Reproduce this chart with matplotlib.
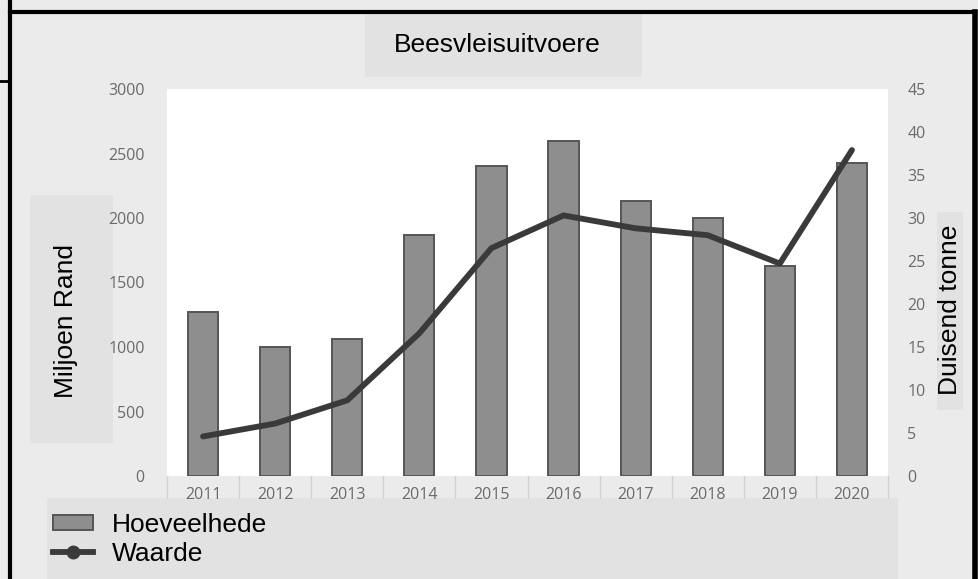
import matplotlib.pyplot as plt
from matplotlib.patches import Rectangle
from matplotlib.lines import Line2D
import matplotlib.transforms as mtransforms

# data
years = ["2011", "2012", "2013", "2014", "2015", "2016", "2017", "2018", "2019", "2020"]
hoeveelhede = [1270, 1000, 1065, 1870, 2400, 2600, 2130, 2000, 1630, 2430]   # left axis
waarde = [4.6, 6.1, 8.8, 16.6, 26.5, 30.3, 28.8, 28.0, 24.7, 37.9]            # right axis

left_ticks = [0, 500, 1000, 1500, 2000, 2500, 3000]
right_ticks = [0, 5, 10, 15, 20, 25, 30, 35, 40, 45]

W, H = 979, 579
fig = plt.figure(figsize=(W / 100, H / 100), dpi=100)
fig.patch.set_facecolor("#ebebeb")

def fx(x):
    return x / W

def fy(y):
    return 1 - y / H

def box(x0, y0, x1, y1, color):
    fig.add_artist(Rectangle((fx(x0), fy(y1)), (x1 - x0) / W, (y1 - y0) / H,
                             transform=fig.transFigure, facecolor=color,
                             edgecolor="none", zorder=-1))

def line(xs, ys, lw=3):
    fig.add_artist(Line2D([fx(x) for x in xs], [fy(y) for y in ys],
                          transform=fig.transFigure, color="black", lw=lw,
                          solid_capstyle="projecting", zorder=5))

# flat boxes behind title, axis labels and legend
box(365, 13, 642, 77, "#e2e2e2")
box(30, 195, 113, 443, "#e2e2e2")
box(937, 212, 963, 410, "#e2e2e2")
box(47, 498, 898, 579, "#e2e2e2")

# outer frame and the stray table lines in the corner
line([9.5, 9.5], [0, 579])
line([9.5, 975], [11.5, 11.5])
line([975, 975], [11.5, 579], lw=4)
line([0, 9.5], [80.5, 80.5], lw=2)

ax = fig.add_axes([fx(167), fy(476), (888 - 167) / W, (476 - 89) / H])
ax.set_facecolor("white")
x = range(len(years))
bars = ax.bar(x, hoeveelhede, width=0.42, color="#8e8e8e", edgecolor="#555555",
              linewidth=1.4, label="Hoeveelhede", zorder=2)
ax.set_xlim(-0.5, len(years) - 0.5)
ax.set_ylim(0, 3000)
ax.set_yticks(left_ticks)
ax.set_xticks(list(x))
ax.set_xticklabels(years)
for s in ax.spines.values():
    s.set_visible(False)

ax.tick_params(axis="y", length=0, pad=16)
ax.tick_params(axis="x", length=0, pad=8)
for lab in ax.get_xticklabels() + ax.get_yticklabels():
    lab.set_fontfamily("Open Sans")
    lab.set_fontsize(11.5)
    lab.set_color("#6a6a6a")

# category separators in the x band
trans = mtransforms.blended_transform_factory(ax.transData, ax.transAxes)
for k in range(len(years) + 1):
    ax.add_line(Line2D([k - 0.5, k - 0.5], [0, -0.057], transform=trans,
                       color="#d2d2d2", lw=1, clip_on=False))

ax2 = ax.twinx()
ax2.plot(list(x), waarde, color="#3a3a3a", lw=4.2, solid_joinstyle="round",
         solid_capstyle="round", zorder=3)
ax2.set_ylim(0, 45)
ax2.set_yticks(right_ticks)
for s in ax2.spines.values():
    s.set_visible(False)
ax2.tick_params(axis="y", length=0, pad=14)
for lab in ax2.get_yticklabels():
    lab.set_fontfamily("Open Sans")
    lab.set_fontsize(11.5)
    lab.set_color("#6a6a6a")

txt = dict(family="Liberation Sans", size=19, color="black")
fig.text(fx(497), fy(45), "Beesvleisuitvoere", ha="center", va="center", **txt)
fig.text(fx(66.5), fy(321), "Miljoen Rand", rotation=90, ha="center", va="center", **txt)
fig.text(fx(950), fy(310), "Duisend tonne", rotation=90, ha="center", va="center", **txt)

handles = [
    Rectangle((0, 0), 1, 1, facecolor="#8e8e8e", edgecolor="#555555", lw=1.4),
    Line2D([0], [0], color="#3a3a3a", lw=4.2, marker="o", markersize=9),
]
fig.legend(handles, ["Hoeveelhede", "Waarde"], loc="upper left",
           bbox_to_anchor=(fx(53), fy(513)), frameon=False,
           prop={"family": "Liberation Sans", "size": 19},
           handlelength=1.5, handleheight=0.5, handletextpad=0.75,
           labelspacing=0.18, borderpad=0, borderaxespad=0)

fig.savefig("out.png", dpi=100, facecolor=fig.get_facecolor())
